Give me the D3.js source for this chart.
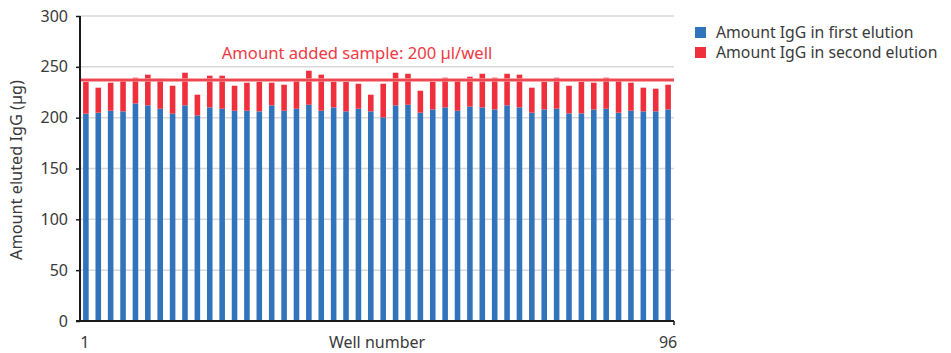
<!DOCTYPE html>
<html><head><meta charset="utf-8">
<script src="https://cdn.jsdelivr.net/npm/d3@7"></script>
<style>body{margin:0;background:#fff;}svg{display:block;font-family:"Noto Sans",sans-serif;}</style>
</head><body><svg id="c" width="951" height="353"></svg>
<script>
const wells = d3.range(1, 49);
const firstElution = [203.9,204.9,206.8,206.2,214.0,212.1,208.8,203.9,212.1,202.2,210.1,208.8,
  206.8,206.8,206.2,212.1,206.8,208.8,212.7,206.8,210.1,206.2,208.8,206.2,
  200.3,212.1,212.7,204.9,208.1,210.1,206.8,210.8,210.1,208.1,212.1,210.1,
  204.9,208.1,208.8,204.2,204.2,208.1,208.8,204.9,206.8,206.2,206.2,208.1];
const totalElution = [235.4,229.5,234.4,237.3,239.3,242.3,238.3,231.4,244.2,222.6,241.3,241.3,
  231.4,234.4,235.4,234.4,232.4,237.3,246.2,242.3,235.4,235.4,233.4,222.6,
  233.4,244.2,243.2,226.5,235.4,239.3,237.3,240.3,243.2,239.3,243.2,242.3,
  229.5,235.4,239.3,231.4,235.4,234.4,239.3,237.3,234.4,229.5,228.5,232.4];
const secondElution = totalElution.map((t, i) => +(t - firstElution[i]).toFixed(1));
const yTicks = [0, 50, 100, 150, 200, 250, 300];
const xTickLabels = ["1", "96"];
const refValue = 237;
const refLabel = "Amount added sample: 200 µl/well";
const seriesNames = ["Amount IgG in first elution", "Amount IgG in second elution"];
const colors = ["#3274bc", "#f02f3c"];

const svg = d3.select("#c");
const mLeft = 80, mRight = 674, mTop = 16, mBottom = 321;
const x = d3.scaleBand().domain(wells).range([mLeft, mRight]).paddingInner(0.55).paddingOuter(0.25);
const y = d3.scaleLinear().domain([0, 300]).range([mBottom, mTop]);

// gridlines
svg.append("g").selectAll("line").data(yTicks.filter(d => d > 0)).join("line")
  .attr("x1", mLeft).attr("x2", mRight).attr("y1", d => y(d)).attr("y2", d => y(d))
  .attr("stroke", "#d9d9d9").attr("stroke-width", 1.5);

// stacked bars
const stackData = wells.map((w, i) => ({w, a: firstElution[i], b: secondElution[i]}));
const stack = d3.stack().keys(["a", "b"])(stackData);
svg.append("g").selectAll("g").data(stack).join("g").attr("fill", (d, i) => colors[i])
  .selectAll("rect").data(d => d).join("rect")
  .attr("x", d => x(d.data.w)).attr("width", x.bandwidth())
  .attr("y", d => y(d[1])).attr("height", d => y(d[0]) - y(d[1]));

// reference line
svg.append("line").attr("x1", mLeft).attr("x2", mRight).attr("y1", y(refValue)).attr("y2", y(refValue))
  .attr("stroke", "#f58a91").attr("stroke-width", 3.5);
svg.append("line").attr("x1", mLeft).attr("x2", mRight).attr("y1", y(refValue)).attr("y2", y(refValue))
  .attr("stroke", "#ee2f3b").attr("stroke-width", 1.6);
svg.append("text").attr("x", 357).attr("y", 59).attr("text-anchor", "middle")
  .attr("fill", "#ee3a45").attr("font-size", 16.6).text(refLabel);

// y axis
const yAxis = d3.axisLeft(y).tickValues(yTicks).tickSize(4).tickPadding(8);
const gy = svg.append("g").attr("transform", `translate(${mLeft},0)`).call(yAxis);
gy.select(".domain").attr("stroke", "#1a1a1a").attr("stroke-width", 2).attr("d", `M0,${mTop}V${mBottom}`);
gy.selectAll(".tick line").attr("stroke", "#1a1a1a").attr("stroke-width", 1.5);
gy.selectAll(".tick text").attr("font-size", 16).attr("fill", "#3a3a3a").attr("font-family", "Noto Sans");

// x axis
svg.append("line").attr("x1", mLeft - 4).attr("x2", mRight).attr("y1", mBottom).attr("y2", mBottom)
  .attr("stroke", "#1a1a1a").attr("stroke-width", 2);
svg.append("line").attr("x1", mRight).attr("x2", mRight).attr("y1", mBottom).attr("y2", mBottom + 4)
  .attr("stroke", "#1a1a1a").attr("stroke-width", 1.5);
const xLabelPos = [x(wells[0]) + x.bandwidth() / 2 - 1, x(wells[wells.length - 1]) + x.bandwidth() / 2];
svg.append("g").selectAll("text").data(xTickLabels).join("text")
  .attr("x", (d, i) => xLabelPos[i]).attr("y", 348).attr("text-anchor", "middle")
  .attr("font-size", 16).attr("fill", "#3a3a3a").text(d => d);
svg.append("text").attr("x", 377).attr("y", 348).attr("text-anchor", "middle")
  .attr("font-size", 16).attr("fill", "#3a3a3a").text("Well number");
svg.append("text").attr("transform", `translate(22,170) rotate(-90)`).attr("text-anchor", "middle")
  .attr("font-size", 16.3).attr("fill", "#3a3a3a").text("Amount eluted IgG (µg)");

// legend
const lg = svg.append("g").selectAll("g").data(seriesNames).join("g")
  .attr("transform", (d, i) => `translate(695,${27 + i * 20})`);
lg.append("rect").attr("width", 11).attr("height", 11).attr("fill", (d, i) => colors[i]);
lg.append("text").attr("x", 21).attr("y", 11).attr("font-size", 15.8).attr("fill", "#3a3a3a").text(d => d);
</script></body></html>
